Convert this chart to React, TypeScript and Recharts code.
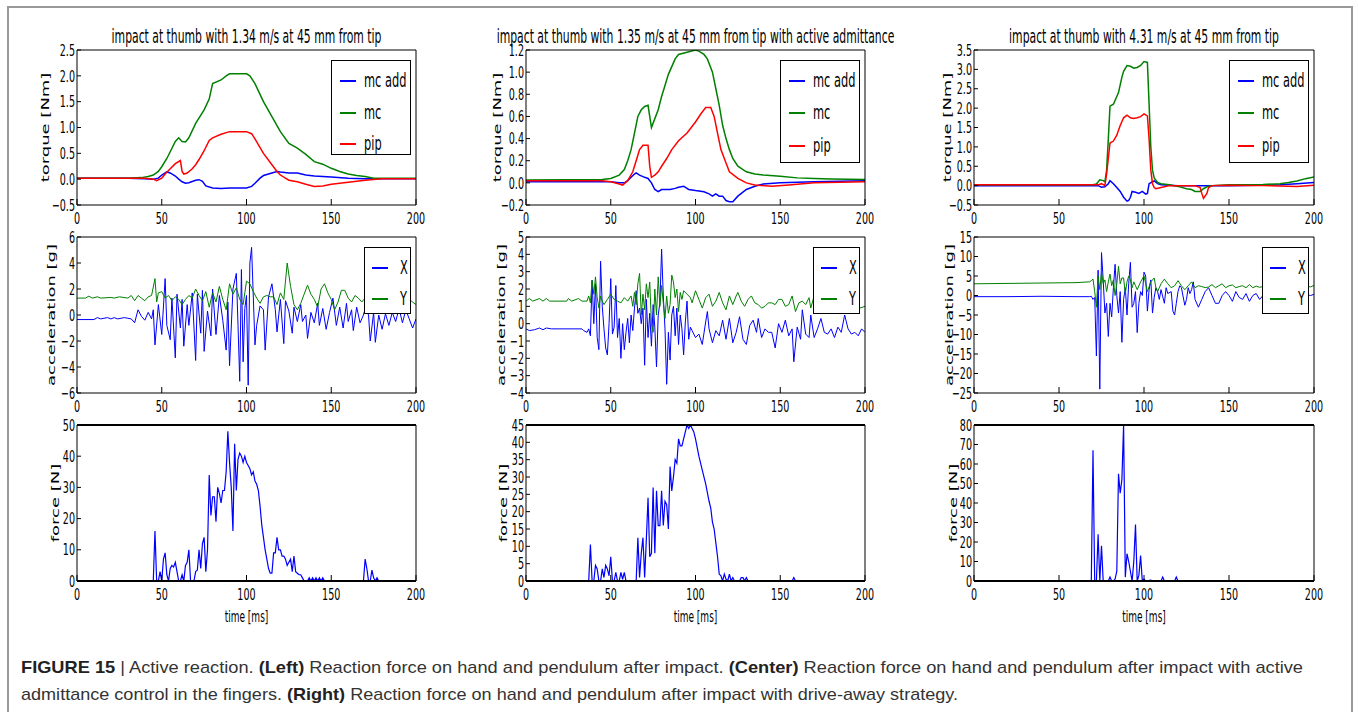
import { LineChart, Line, XAxis, YAxis, Legend, Label } from 'recharts';

type Pt = [number, number];

const timeTicks = [0, 50, 100, 150, 200];

// ---- left column: 1.34 m/s ----
const leftMcAdd: Pt[] = [[0,0.02],[10,0.02],[20,0.02],[30,0.02],[40,0.01],[45,0.0],[48,0.02],[50,0.08],[53,0.14],[55,0.12],[58,0.06],[60,0.0],[62,-0.05],[64,-0.08],[66,-0.07],[70,-0.02],[72,-0.01],[74,-0.04],[76,-0.13],[80,-0.17],[85,-0.18],[90,-0.17],[100,-0.17],[103,-0.14],[105,-0.08],[108,0.02],[110,0.07],[115,0.12],[118,0.15],[120,0.14],[125,0.12],[130,0.12],[135,0.08],[140,0.06],[150,0.04],[160,0.02],[170,0.01],[200,0.01]];
const leftMc: Pt[] = [[0,0.02],[30,0.02],[38,0.03],[42,0.05],[45,0.08],[48,0.15],[50,0.24],[53,0.4],[55,0.53],[58,0.73],[60,0.8],[62,0.73],[64,0.72],[66,0.8],[70,1.08],[75,1.34],[78,1.55],[80,1.85],[85,1.92],[88,2.0],[90,2.04],[100,2.04],[102,2.0],[105,1.85],[110,1.5],[115,1.21],[120,0.92],[125,0.69],[130,0.6],[135,0.48],[140,0.34],[145,0.29],[150,0.21],[155,0.15],[160,0.1],[165,0.07],[170,0.05],[175,0.02],[200,0.02]];
const leftPip: Pt[] = [[0,0.02],[40,0.02],[45,0.0],[47,-0.03],[50,0.02],[52,0.1],[55,0.2],[58,0.3],[61,0.36],[62,0.15],[63,0.1],[65,0.12],[68,0.2],[70,0.28],[72,0.38],[75,0.55],[78,0.75],[80,0.8],[85,0.87],[90,0.92],[100,0.92],[103,0.88],[105,0.78],[110,0.5],[115,0.28],[118,0.15],[120,0.08],[125,-0.02],[130,-0.05],[135,-0.1],[140,-0.14],[145,-0.13],[150,-0.1],[160,-0.06],[170,-0.02],[180,0.01],[200,0.01]];

const leftAccX: Pt[] = [[0,-0.35],[10,-0.35],[12,-0.2],[14,-0.3],[18,-0.2],[20,-0.3],[22,-0.2],[24,-0.3],[28,-0.2],[30,-0.25],[32,-0.3],[34,-0.6],[36,0.4],[38,-0.1],[40,-0.4],[42,0.2],[44,-0.3],[45,0.4],[46,-2.3],[48,0.8],[50,-1.5],[52,2.8],[53,-0.8],[55,-1.9],[56,1.3],[58,-3.3],[59,1.6],[61,-1.0],[62,1.2],[63,-2.4],[65,0.8],[66,-0.8],[68,1.7],[70,-3.5],[71,1.6],[73,-1.4],[74,1.9],[75,-2.8],[77,0.3],[79,-1.6],[80,2.0],[82,-1.5],[84,1.5],[86,-0.4],[88,-2.7],[89,1.0],[90,-3.9],[92,2.0],[94,3.2],[95,-0.8],[96,-5.1],[97,3.5],[98,-3.6],[99,0.5],[100,1.5],[101,-5.4],[102,4.0],[103,5.2],[105,-2.3],[106,-0.8],[108,0.7],[110,0.4],[111,-2.7],[113,1.4],[115,2.4],[117,0.4],[118,-1.3],[120,1.2],[122,-2.2],[123,1.1],[125,0.3],[127,-1.4],[128,0.6],[130,-0.5],[132,0.8],[133,-0.5],[135,0.0],[136,-1.8],[138,0.2],[140,-0.6],[142,0.9],[143,-0.8],[145,0.5],[147,-1.1],[149,0.2],[151,1.3],[153,-0.8],[155,0.6],[157,-1.0],[159,0.9],[160,-0.5],[162,0.4],[163,-1.2],[165,0.6],[167,-0.6],[169,0.0],[170,0.5],[172,0.0],[173,-2.0],[175,0.2],[176,-2.1],[178,0.0],[180,-1.1],[182,0.1],[184,-0.8],[186,0.2],[188,-0.5],[190,0.5],[192,-0.6],[194,0.4],[196,-0.3],[198,-1.0],[200,-0.3]];
const leftAccY: Pt[] = [[0,1.3],[5,1.3],[7,1.45],[9,1.3],[12,1.4],[14,1.3],[20,1.35],[22,1.3],[25,1.4],[30,1.3],[32,1.5],[34,1.1],[36,1.5],[38,1.3],[40,1.1],[42,1.4],[44,1.5],[46,2.8],[47,1.0],[48,1.7],[50,1.8],[52,1.3],[54,1.5],[56,1.1],[58,1.4],[60,1.2],[62,0.8],[64,1.2],[66,1.5],[68,1.3],[70,2.0],[72,1.5],[74,1.1],[76,1.8],[78,0.6],[80,1.7],[82,1.0],[84,2.2],[86,1.2],[88,0.4],[90,2.4],[92,1.6],[94,2.1],[96,1.2],[98,0.8],[100,2.6],[102,2.4],[104,1.8],[106,1.3],[108,0.9],[110,1.4],[112,1.5],[114,1.4],[116,1.4],[118,0.8],[120,1.7],[122,1.2],[124,4.0],[126,2.2],[128,0.8],[130,0.4],[132,0.9],[134,1.6],[136,2.3],[138,1.6],[140,1.2],[142,0.6],[144,2.0],[146,2.4],[148,1.7],[150,1.2],[152,0.4],[154,1.0],[156,1.9],[158,1.9],[160,1.3],[162,1.0],[164,1.5],[166,1.3],[168,1.0],[170,1.3],[172,1.5],[174,1.2],[176,0.8],[178,1.4],[180,1.2],[184,1.0],[186,1.4],[190,1.2],[194,1.4],[198,1.0],[200,0.8]];

const leftForce: Pt[] = [[0,0],[45,0],[46,16],[47,0],[48,0],[49,3],[50,0],[51,7],[52,9],[53,2],[54,0],[55,4],[56,5],[57,4.5],[58,6],[59,3],[60,0],[61,0],[62,2],[63,0],[64,5],[65,6],[66,10],[67,0],[69,0],[70,3],[71,3.5],[72,10],[73,4],[74,12],[75,14],[76,3],[77,10],[78,34],[79,21],[80,27],[81,27],[82,19],[83,30],[84,28],[85,25],[86,29],[87,29],[88,35],[89,48],[90,38],[91,30],[92,16],[93,44],[94,29],[95,39],[96,41],[97,40],[98,38],[99,40],[100,38],[101,37],[102,36],[103,34],[104,35],[105,32],[106,31],[107,29],[108,24],[109,18],[110,14],[111,10],[112,7],[113,4],[114,2.5],[115,2.5],[116,9],[117,9],[118,14],[119,10],[120,10],[121,8],[122,8],[123,7],[124,5],[125,6],[126,7],[127,3],[128,8],[129,3],[130,2.5],[131,2],[132,2],[133,1],[134,0],[136,0],[137,1],[138,0],[139,1],[140,0],[141,1],[142,0],[143,1],[144,0],[145,1],[146,0],[169,0],[170,7],[171,4],[172,0],[173,0],[174,3.5],[175,1],[176,0],[177,1],[178,0],[200,0]];

// ---- center column: 1.35 m/s, active admittance ----
const midMcAdd: Pt[] = [[0,0.01],[50,0.01],[55,0.0],[58,0.0],[60,0.02],[62,0.05],[64,0.08],[65,0.09],[67,0.07],[70,0.05],[72,0.04],[74,0.0],[76,-0.06],[78,-0.08],[80,-0.06],[85,-0.06],[88,-0.05],[90,-0.04],[93,-0.03],[96,-0.06],[100,-0.07],[105,-0.08],[108,-0.1],[110,-0.12],[112,-0.1],[114,-0.12],[116,-0.12],[118,-0.16],[120,-0.17],[122,-0.17],[125,-0.12],[130,-0.06],[135,-0.03],[140,-0.01],[150,0.0],[170,0.01],[200,0.02]];
const midMc: Pt[] = [[0,0.025],[45,0.03],[50,0.04],[55,0.07],[58,0.12],[60,0.2],[62,0.3],[64,0.45],[66,0.6],[68,0.66],[70,0.69],[72,0.7],[73,0.6],[74,0.5],[76,0.58],[78,0.66],[80,0.78],[82,0.88],[84,0.98],[86,1.05],[88,1.12],[90,1.16],[95,1.18],[100,1.2],[102,1.19],[105,1.16],[107,1.12],[110,1.0],[112,0.85],[114,0.7],[116,0.52],[118,0.4],[120,0.3],[122,0.22],[125,0.15],[130,0.1],[135,0.08],[140,0.07],[150,0.06],[160,0.045],[170,0.04],[180,0.035],[200,0.03]];
const midPip: Pt[] = [[0,0.02],[45,0.02],[50,0.01],[55,-0.01],[57,-0.02],[60,0.02],[63,0.1],[65,0.2],[67,0.3],[69,0.34],[72,0.34],[73,0.15],[74,0.05],[76,0.07],[78,0.1],[80,0.15],[83,0.22],[86,0.3],[90,0.38],[95,0.45],[100,0.55],[103,0.62],[106,0.68],[109,0.68],[111,0.6],[113,0.45],[115,0.3],[118,0.18],[120,0.1],[125,0.04],[130,0.0],[135,-0.02],[145,-0.03],[155,-0.02],[170,0.0],[200,0.01]];

const midAccX: Pt[] = [[0,-0.3],[2,-0.4],[5,-0.35],[8,-0.25],[10,-0.35],[12,-0.25],[15,-0.3],[20,-0.3],[33,-0.3],[34,-0.4],[36,-0.5],[37,-0.3],[38,-0.7],[39,2.5],[40,0.0],[41,2.3],[42,-0.8],[43,-1.5],[44,3.6],[45,1.0],[46,-0.3],[47,-1.4],[48,-1.8],[49,0.0],[50,2.6],[51,-0.6],[52,-0.2],[53,2.2],[54,-0.8],[55,0.3],[56,-2.0],[57,0.0],[58,-1.5],[59,-0.5],[60,0.3],[61,-1.1],[62,0.5],[63,-0.4],[64,0.9],[65,1.9],[66,0.6],[67,0.9],[68,0.0],[69,0.9],[70,-2.4],[71,1.4],[72,-0.8],[73,0.6],[74,-1.3],[75,1.1],[76,-0.2],[77,-2.5],[78,0.5],[79,1.2],[80,4.3],[81,1.6],[82,-0.3],[83,-3.5],[84,-0.5],[85,-2.1],[86,0.5],[87,1.0],[88,-0.7],[89,0.9],[90,-1.2],[91,0.5],[92,-0.3],[93,-1.8],[94,0.1],[95,1.3],[96,-0.9],[97,-0.2],[98,-0.4],[100,-0.8],[102,-0.6],[104,-1.2],[106,0.1],[107,0.7],[108,-0.3],[110,-1.1],[112,-0.4],[114,-0.7],[116,0.2],[118,-0.9],[120,0.3],[122,-1.1],[124,-0.5],[126,0.4],[128,-0.9],[130,-1.2],[132,-0.1],[134,0.2],[136,-0.5],[137,0.3],[139,-0.8],[141,-0.3],[143,-0.5],[145,-0.5],[147,-1.4],[149,0.0],[151,-0.5],[153,0.2],[155,-0.7],[157,-0.3],[158,-2.2],[160,-0.2],[162,-0.9],[163,0.8],[165,-0.6],[167,-0.8],[168,0.5],[170,-0.8],[172,-0.3],[174,0.3],[176,-0.5],[178,-0.6],[180,-0.3],[182,-0.8],[184,-0.2],[186,-0.5],[188,0.5],[190,-0.3],[192,-0.6],[194,-0.5],[196,-0.7],[198,-0.3],[200,-0.5]];
const midAccY: Pt[] = [[0,1.3],[2,1.45],[4,1.3],[8,1.45],[10,1.3],[12,1.45],[14,1.3],[24,1.3],[25,1.45],[27,1.3],[31,1.45],[33,1.3],[36,1.3],[37,1.6],[38,1.2],[39,2.5],[40,1.7],[41,2.7],[42,1.5],[43,0.9],[44,1.6],[45,1.3],[46,1.1],[48,1.4],[50,1.7],[52,1.4],[54,1.3],[56,1.2],[58,1.5],[60,1.3],[62,1.6],[63,1.0],[64,1.8],[65,1.1],[66,2.3],[67,2.9],[68,0.5],[69,1.7],[70,0.8],[71,2.3],[72,1.5],[73,2.4],[74,0.0],[75,-0.5],[76,2.0],[77,0.5],[78,2.7],[79,1.0],[80,2.2],[81,1.2],[82,0.3],[83,1.6],[84,0.6],[85,1.1],[86,2.8],[87,2.4],[88,1.5],[89,2.0],[90,0.7],[91,1.8],[92,1.4],[93,1.9],[95,1.7],[97,1.5],[98,1.2],[100,1.9],[102,1.4],[104,0.9],[106,1.5],[108,1.7],[110,1.0],[112,1.3],[114,1.8],[116,1.2],[118,0.8],[120,1.6],[122,1.1],[124,1.6],[125,1.8],[127,1.3],[129,1.0],[131,1.4],[133,1.6],[135,1.2],[137,1.1],[139,0.9],[141,1.0],[143,1.2],[145,1.2],[147,1.1],[149,1.4],[151,1.4],[153,1.0],[155,1.1],[157,1.6],[159,0.7],[161,1.2],[163,1.3],[165,1.1],[167,1.5],[168,0.9],[170,1.6],[172,1.1],[174,1.4],[176,1.0],[178,1.3],[180,1.5],[182,1.0],[185,1.4],[188,1.2],[190,1.6],[192,1.0],[195,1.3],[197,0.9],[200,1.0]];

const midForce: Pt[] = [[0,0],[37,0],[38,10.5],[39,0],[40,0],[41,4.5],[42,3.5],[43,0],[44,0],[45,3.5],[46,1],[47,4.5],[48,3.5],[49,1.5],[50,7],[51,0],[52,0],[53,2.5],[54,0],[55,0],[56,2.5],[57,0.5],[58,2.5],[59,0],[65,0],[66,12.5],[67,1],[68,8],[69,12.5],[70,1],[71,12],[72,24],[73,7],[74,8],[75,27],[76,8],[77,26],[78,16],[79,16],[80,26],[81,16],[82,23],[83,22],[84,15],[85,33],[86,26],[87,30],[88,35],[89,34],[90,41],[91,39],[92,39],[93,41],[94,43],[95,45],[96,44],[97,45],[98,44],[99,43],[100,41],[102,36],[104,32],[106,28],[108,23],[109,21],[110,17],[111,15],[112,11],[113,7],[114,2],[115,1.5],[116,0],[117,2],[118,0.5],[119,0],[120,2],[121,0],[122,1],[123,0],[126,0],[127,1],[128,1],[129,0],[130,1],[131,0],[157,0],[158,1],[159,0],[200,0]];

// ---- right column: 4.31 m/s ----
const rightMcAdd: Pt[] = [[0,0.0],[73,0.0],[75,-0.04],[77,-0.03],[79,0.05],[80,0.13],[82,0.05],[84,-0.05],[86,-0.15],[88,-0.3],[90,-0.4],[91,-0.38],[92,-0.3],[93,-0.15],[95,-0.17],[97,-0.2],[99,-0.15],[101,-0.22],[102,-0.2],[103,0.05],[105,0.1],[106,0.12],[108,0.05],[110,0.02],[120,0.0],[150,0.0],[180,0.02],[190,0.05],[200,0.08]];
const rightMc: Pt[] = [[0,0.02],[70,0.02],[72,0.04],[74,0.15],[76,0.13],[77,0.1],[78,0.4],[79,1.2],[80,2.05],[82,2.1],[84,2.3],[85,2.4],[86,2.6],[87,2.8],[88,2.95],[90,3.1],[92,3.08],[94,3.03],[96,3.05],[98,3.1],[100,3.2],[102,3.18],[103,2.1],[104,1.0],[105,0.4],[106,0.2],[108,0.08],[110,0.05],[115,0.02],[120,-0.02],[125,-0.08],[128,-0.1],[130,-0.15],[133,-0.15],[135,-0.08],[137,-0.03],[140,0.0],[150,0.02],[170,0.03],[180,0.05],[185,0.08],[190,0.12],[195,0.18],[200,0.22]];
const rightPip: Pt[] = [[0,0.02],[73,0.02],[75,0.05],[77,0.0],[78,0.3],[79,0.7],[80,1.1],[82,1.15],[84,1.3],[86,1.55],[88,1.75],[90,1.82],[92,1.75],[94,1.73],[96,1.75],[98,1.78],[100,1.85],[102,1.8],[103,1.2],[104,0.4],[105,0.05],[106,-0.05],[107,-0.08],[110,-0.05],[115,0.0],[130,0.0],[133,-0.05],[134,-0.2],[135,-0.33],[137,-0.2],[138,-0.05],[140,0.0],[150,0.01],[170,0.0],[190,-0.02],[200,0.01]];

const rightAccX: Pt[] = [[0,-0.3],[20,-0.3],[40,-0.2],[60,-0.3],[68,-0.3],[69,-0.2],[70,-1.0],[71,-0.5],[72,-15.5],[73,6.5],[74,-24],[75,11],[76,4.0],[77,-4.5],[78,-2.0],[79,-10.5],[80,-2.0],[81,-5.5],[82,2.0],[83,8.0],[84,0.0],[85,-4.5],[86,1.0],[87,-12.0],[88,-1.0],[89,2.0],[90,-5.0],[91,3.0],[92,8.5],[93,-3.0],[94,-2.0],[95,1.0],[96,-9.5],[97,-2.0],[98,1.0],[99,0.0],[100,6.0],[101,5.0],[102,-4.0],[103,1.5],[104,4.0],[105,-4.5],[106,-0.5],[107,2.0],[108,1.0],[109,-1.0],[110,1.5],[112,-2.0],[113,2.0],[114,0.5],[116,1.0],[117,-4.0],[118,-5.0],[119,-2.0],[120,1.0],[121,2.5],[122,2.0],[124,-2.5],[125,-1.0],[126,2.0],[127,0.5],[128,1.5],[129,3.5],[130,-1.0],[132,-3.0],[134,-1.0],[136,1.0],[138,2.0],[140,0.0],[142,-2.0],[144,-2.0],[146,0.0],[148,1.0],[150,0.0],[152,-1.5],[154,1.0],[156,-0.5],[158,-1.0],[160,0.5],[162,-1.5],[164,0.0],[166,0.5],[168,-1.0],[170,0.0],[172,-0.5],[175,0.5],[178,0.0],[182,-0.5],[186,0.2],[190,-0.3],[195,0.3],[198,0.0],[200,0.3]];
const rightAccY: Pt[] = [[0,3.0],[20,3.1],[40,3.2],[60,3.3],[68,3.5],[69,3.8],[70,4.2],[71,1.0],[72,-3.0],[73,5.0],[74,1.5],[75,6.0],[76,3.0],[77,4.0],[78,1.0],[79,3.5],[80,5.5],[81,2.5],[82,4.0],[83,0.0],[84,3.0],[85,7.5],[86,3.0],[87,4.5],[88,4.5],[89,0.5],[90,3.5],[91,5.0],[92,4.0],[93,2.0],[94,3.5],[95,2.5],[96,1.5],[98,3.5],[100,5.0],[101,3.0],[102,1.0],[104,3.5],[106,4.5],[107,2.0],[108,1.0],[110,3.0],[112,4.2],[114,3.0],[116,2.0],[118,2.5],[120,3.8],[122,2.5],[124,1.5],[126,2.5],[128,3.5],[130,2.0],[132,2.5],[134,2.3],[136,2.0],[138,2.2],[140,2.8],[142,2.0],[144,2.5],[146,3.0],[148,2.0],[150,2.5],[152,2.7],[154,2.0],[156,2.3],[158,2.5],[160,2.0],[162,2.8],[164,2.0],[166,2.4],[168,2.1],[170,2.3],[175,2.5],[180,2.1],[185,2.3],[190,2.0],[195,2.4],[198,2.2],[200,2.6]];

const rightForce: Pt[] = [[0,0],[69,0],[70,67],[71,0],[72,0],[73,24],[74,0],[75,18],[76,0],[79,0],[80,2],[81,0],[82,0],[83,1],[84,5],[85,55],[86,45],[87,52],[88,80],[89,2],[90,14],[91,10],[92,5],[93,0],[94,10],[95,29],[96,0],[97,3],[98,13],[99,0],[100,1],[101,0],[104,0.5],[105,0],[110,0],[111,2],[112,0],[118,0],[119,2],[120,0],[200,0]];

// axis ticks
const leftTorqueTicks = [-0.5, 0, 0.5, 1, 1.5, 2, 2.5];
const midTorqueTicks = [-0.2, 0, 0.2, 0.4, 0.6, 0.8, 1.0, 1.2];
const rightTorqueTicks = [-0.5, 0, 0.5, 1, 1.5, 2, 2.5, 3, 3.5];
const leftAccTicks = [-6, -4, -2, 0, 2, 4, 6];
const midAccTicks = [-4, -3, -2, -1, 0, 1, 2, 3, 4, 5];
const rightAccTicks = [-25, -20, -15, -10, -5, 0, 5, 10, 15];
const leftForceTicks = [0, 10, 20, 30, 40, 50];
const midForceTicks = [0, 5, 10, 15, 20, 25, 30, 35, 40, 45];
const rightForceTicks = [0, 10, 20, 30, 40, 50, 60, 70, 80];

const titles = [
  'impact at thumb with 1.34 m/s at 45 mm from tip',
  'impact at thumb with 1.35 m/s at 45 mm from tip with active admittance',
  'impact at thumb with 4.31 m/s at 45 mm from tip',
];

const FONT = "'DejaVu Sans', 'Bitstream Vera Sans', sans-serif";
const SQ = 0.6; // the original figure is squeezed horizontally
const BLUE = '#0000ff';
const GREEN = '#008000';
const RED = '#ff0000';

const COLS = [{ left: 77, w: 339 }, { left: 526, w: 339 }, { left: 974, w: 340 }];
const ROWS = [{ top: 50, h: 155 }, { top: 237, h: 156 }, { top: 425, h: 156 }];

const fmt1 = (v: number) => (v < 0 ? '\u2212' : '') + Math.abs(v).toFixed(1);
const fmt0 = (v: number) => (v < 0 ? '\u2212' : '') + Math.abs(v).toFixed(0);

const rows = (pts: Pt[]) => pts.map(([t, v]) => ({ t, v }));

interface Series { name: string; pts: Pt[]; color: string; width: number }
interface LegendSpec { left: number; top: number; w: number; h: number; rowY: number[]; sampleX: number; textX: number }
interface PanelSpec {
  col: number; row: number;
  domain: [number, number]; ticks: number[]; fmt: (v: number) => string;
  ylabel: string; ylabelX: number;
  series: Series[];
  legend?: LegendSpec;
  title?: string;
}

function XTick({ x, y, payload }: any) {
  return (
    <text transform={`translate(${x},${y}) scale(${SQ},1)`} textAnchor="middle" dy="0.71em" fontSize={16} fontFamily={FONT} fill="#000">
      {payload.value}
    </text>
  );
}

function makeYTick(fmt: (v: number) => string) {
  return ({ x, y, payload }: any) => (
    <text transform={`translate(${x},${y}) scale(${SQ},1)`} textAnchor="end" dy="0.355em" fontSize={16} fontFamily={FONT} fill="#000">
      {fmt(payload.value)}
    </text>
  );
}

function makeLegend(spec: LegendSpec, order: string[]) {
  return (props: any) => {
    const items = [...(props.payload || [])].sort((a: any, b: any) => order.indexOf(a.value) - order.indexOf(b.value));
    return (
      <div style={{ position: 'relative', width: spec.w, height: spec.h, boxSizing: 'border-box', border: '1.5px solid #000', background: '#fff' }}>
        {items.map((e: any, i: number) => (
          <div key={i} style={{ position: 'absolute', top: spec.rowY[i], left: 0 }}>
            <div style={{ position: 'absolute', left: spec.sampleX, top: -1, width: 16, height: 2, background: e.color }} />
            <span style={{ position: 'absolute', left: spec.textX, top: -13, fontFamily: FONT, fontSize: 19, lineHeight: '24px', whiteSpace: 'nowrap', color: '#000', transform: `scaleX(${SQ})`, transformOrigin: 'left center' }}>
              {e.value}
            </span>
          </div>
        ))}
      </div>
    );
  };
}

const LW = 75, TH = 40, RW = 40;

function Panel({ p }: { p: PanelSpec }) {
  const c = COLS[p.col];
  const r = ROWS[p.row];
  const BH = p.row === 2 ? 50 : 30;
  const ox = c.left - LW;
  const oy = r.top - TH;
  const width = LW + c.w + RW;
  const height = TH + r.h + BH;
  const frameW = p.row === 2 ? 2 : 1;
  return (
    <div style={{ position: 'absolute', left: ox, top: oy }}>
      <LineChart width={width} height={height} margin={{ top: TH - 20, right: 0, bottom: 0, left: 0 }}>
        <XAxis xAxisId="t" orientation="top" type="number" domain={[0, 200]} ticks={timeTicks} interval={0} allowDataOverflow
          height={20} tickSize={-6} tick={false} axisLine={{ stroke: '#000', strokeWidth: frameW }} tickLine={{ stroke: '#000' }}>
          {p.title && (
            <Label content={({ viewBox }: any) => (
              <text transform={`translate(${viewBox.x + viewBox.width / 2},${viewBox.y + viewBox.height - 7}) scale(0.57,1)`}
                textAnchor="middle" fontSize={19} fontFamily={FONT} fill="#000">{p.title}</text>
            )} />
          )}
        </XAxis>
        <XAxis xAxisId="b" type="number" dataKey="t" domain={[0, 200]} ticks={timeTicks} interval={0} allowDataOverflow
          height={BH} tickSize={-6} tickMargin={14} tick={XTick} axisLine={{ stroke: '#000', strokeWidth: frameW }} tickLine={{ stroke: '#000' }}>
          {p.row === 2 && (
            <Label content={({ viewBox }: any) => (
              <text transform={`translate(${viewBox.x + viewBox.width / 2},${viewBox.y + 36}) scale(${SQ},1)`}
                textAnchor="middle" dominantBaseline="central" fontSize={15} fontFamily={FONT} fill="#000">time [ms]</text>
            )} />
          )}
        </XAxis>
        <YAxis yAxisId="l" type="number" domain={p.domain} ticks={p.ticks} interval={0} allowDataOverflow
          width={LW} tickSize={-4} tickMargin={6} tick={makeYTick(p.fmt)} axisLine={{ stroke: '#000' }} tickLine={{ stroke: '#000' }}>
          <Label content={({ viewBox }: any) => (
            <text transform={`translate(${p.ylabelX - ox},${viewBox.y + viewBox.height / 2}) scale(${SQ},1) rotate(-90)`}
              textAnchor="middle" dominantBaseline="central" fontSize={18} fontFamily={FONT} fill="#000">{p.ylabel}</text>
          )} />
        </YAxis>
        <YAxis yAxisId="r" orientation="right" type="number" domain={p.domain} ticks={p.ticks} interval={0} allowDataOverflow
          width={RW} tickSize={-4} tick={false} axisLine={{ stroke: '#000' }} tickLine={{ stroke: '#000' }} />
        {p.series.map((s) => (
          <Line key={s.name} xAxisId="b" yAxisId="l" data={rows(s.pts)} dataKey="v" name={s.name} type="linear"
            stroke={s.color} strokeWidth={s.width} dot={false} activeDot={false} isAnimationActive={false} />
        ))}
        {p.legend && (
          <Legend layout="vertical" align="center" verticalAlign="middle"
            wrapperStyle={{ left: p.legend.left - ox, top: p.legend.top - oy, width: p.legend.w, height: p.legend.h }}
            content={makeLegend(p.legend, p.series.map((s) => s.name))} />
        )}
      </LineChart>
    </div>
  );
}

const torqueLegend = (left: number, h: number, rowY: number[]): LegendSpec => ({ left, top: 60, w: 80, h, rowY, sampleX: 8, textX: 32 });
const accLegend = (left: number): LegendSpec => ({ left, top: 247, w: 47, h: 67, rowY: [20, 51], sampleX: 7, textX: 35 });

const panels: PanelSpec[] = [
  { col: 0, row: 0, domain: [-0.5, 2.5], ticks: leftTorqueTicks, fmt: fmt1, ylabel: 'torque [Nm]', ylabelX: 45, title: titles[0],
    series: [{ name: 'mc add', pts: leftMcAdd, color: BLUE, width: 1.5 }, { name: 'mc', pts: leftMc, color: GREEN, width: 1.5 }, { name: 'pip', pts: leftPip, color: RED, width: 1.5 }],
    legend: torqueLegend(331, 95, [20, 52, 83]) },
  { col: 0, row: 1, domain: [-6, 6], ticks: leftAccTicks, fmt: fmt0, ylabel: 'acceleration [g]', ylabelX: 51,
    series: [{ name: 'X', pts: leftAccX, color: BLUE, width: 1 }, { name: 'Y', pts: leftAccY, color: GREEN, width: 1 }],
    legend: accLegend(364) },
  { col: 0, row: 2, domain: [0, 50], ticks: leftForceTicks, fmt: fmt0, ylabel: 'force [N]', ylabelX: 55,
    series: [{ name: 'force', pts: leftForce, color: BLUE, width: 1.2 }] },
  { col: 1, row: 0, domain: [-0.2, 1.2], ticks: midTorqueTicks, fmt: fmt1, ylabel: 'torque [Nm]', ylabelX: 497, title: titles[1],
    series: [{ name: 'mc add', pts: midMcAdd, color: BLUE, width: 1.5 }, { name: 'mc', pts: midMc, color: GREEN, width: 1.5 }, { name: 'pip', pts: midPip, color: RED, width: 1.5 }],
    legend: torqueLegend(780, 103, [20, 52, 85]) },
  { col: 1, row: 1, domain: [-4, 5], ticks: midAccTicks, fmt: fmt0, ylabel: 'acceleration [g]', ylabelX: 501,
    series: [{ name: 'X', pts: midAccX, color: BLUE, width: 1 }, { name: 'Y', pts: midAccY, color: GREEN, width: 1 }],
    legend: accLegend(813) },
  { col: 1, row: 2, domain: [0, 45], ticks: midForceTicks, fmt: fmt0, ylabel: 'force [N]', ylabelX: 503,
    series: [{ name: 'force', pts: midForce, color: BLUE, width: 1.2 }] },
  { col: 2, row: 0, domain: [-0.5, 3.5], ticks: rightTorqueTicks, fmt: fmt1, ylabel: 'torque [Nm]', ylabelX: 947, title: titles[2],
    series: [{ name: 'mc add', pts: rightMcAdd, color: BLUE, width: 1.5 }, { name: 'mc', pts: rightMc, color: GREEN, width: 1.5 }, { name: 'pip', pts: rightPip, color: RED, width: 1.5 }],
    legend: torqueLegend(1229, 103, [20, 52, 85]) },
  { col: 2, row: 1, domain: [-25, 15], ticks: rightAccTicks, fmt: fmt0, ylabel: 'acceleration [g]', ylabelX: 949,
    series: [{ name: 'X', pts: rightAccX, color: BLUE, width: 1 }, { name: 'Y', pts: rightAccY, color: GREEN, width: 1 }],
    legend: accLegend(1262) },
  { col: 2, row: 2, domain: [0, 80], ticks: rightForceTicks, fmt: fmt0, ylabel: 'force [N]', ylabelX: 953,
    series: [{ name: 'force', pts: rightForce, color: BLUE, width: 1.2 }] },
];

const CAP_FONT = "'Liberation Sans', Arial, sans-serif";

export default function App() {
  return (
    <div style={{ position: 'absolute', left: 0, top: 0, width: 1358, height: 712, background: '#fff', overflow: 'hidden' }}>
      <div style={{ position: 'absolute', left: 7, top: 6, width: 1346, height: 706, boxSizing: 'border-box', border: '2px solid #999', borderBottom: 'none' }} />
      {panels.map((p, i) => <Panel key={i} p={p} />)}
      <svg width={1358} height={72} style={{ position: 'absolute', left: 0, top: 640 }}>
        <text x={21} y={33} textLength={1282} lengthAdjust="spacingAndGlyphs" fontSize={17} fontFamily={CAP_FONT} fill="#333">
          <tspan fontWeight="bold" fill="#222">FIGURE 15</tspan> | Active reaction. <tspan fontWeight="bold" fill="#222">(Left)</tspan> Reaction force on hand and pendulum after impact. <tspan fontWeight="bold" fill="#222">(Center)</tspan> Reaction force on hand and pendulum after impact with active
        </text>
        <text x={21} y={60} textLength={937} lengthAdjust="spacingAndGlyphs" fontSize={17} fontFamily={CAP_FONT} fill="#333">
          admittance control in the fingers. <tspan fontWeight="bold" fill="#222">(Right)</tspan> Reaction force on hand and pendulum after impact with drive-away strategy.
        </text>
      </svg>
    </div>
  );
}
